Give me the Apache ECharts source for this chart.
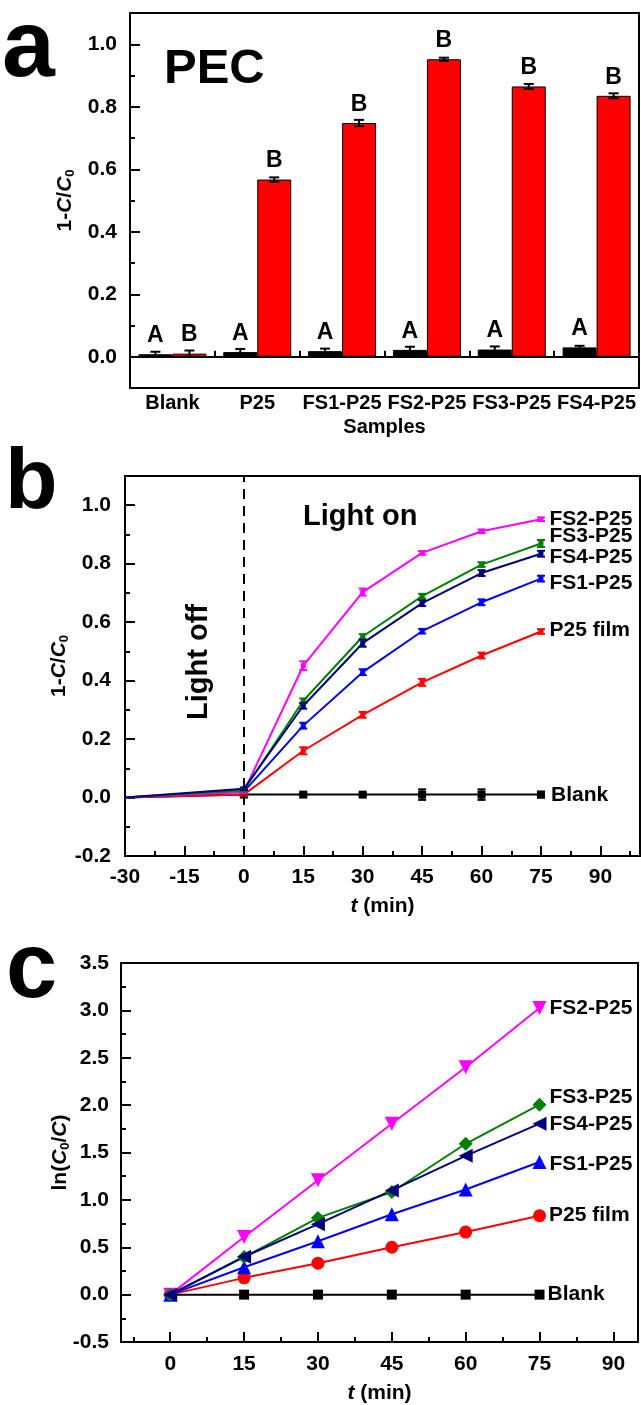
<!DOCTYPE html>
<html><head><meta charset="utf-8">
<script src="https://cdn.jsdelivr.net/npm/echarts@6/dist/echarts.min.js"></script>
<style>html,body{margin:0;padding:0;background:#fff}#c{width:641px;height:1405px}</style>
</head><body><div id="c"></div>
<script>
// ---------------- data ----------------
// Panel a
const samples = ['Blank', 'P25', 'FS1-P25', 'FS2-P25', 'FS3-P25', 'FS4-P25'];
const darkValues = [0.008, 0.015, 0.018, 0.022, 0.023, 0.030];
const darkErrors = [0.008, 0.010, 0.008, 0.010, 0.010, 0.005];
const darkLetters = ['A', 'A', 'A', 'A', 'A', 'A'];
const pecValues = [0.010, 0.567, 0.748, 0.952, 0.865, 0.835];
const pecErrors = [0.010, 0.007, 0.010, 0.005, 0.008, 0.008];
const pecLetters = ['B', 'B', 'B', 'B', 'B', 'B'];
const aYLabels = [0, 0.2, 0.4, 0.6, 0.8, 1.0];
const aYMinor = [0.1, 0.3, 0.5, 0.7, 0.9];

// Panel b
const bTime = [-30, 0, 15, 30, 45, 60, 75];
const bBlank = [0, 0.010, 0.010, 0.010, 0.010, 0.010, 0.010];
const bBlankErr = [0, 0.004, 0.004, 0.004, 0.018, 0.018, 0.010];
const bP25 = [0, 0.010, 0.160, 0.283, 0.394, 0.486, 0.568];
const bP25Err = [0, 0.004, 0.012, 0.010, 0.012, 0.010, 0.008];
const bFS1 = [0, 0.020, 0.246, 0.429, 0.569, 0.668, 0.749];
const bFS1Err = [0, 0.004, 0.010, 0.010, 0.008, 0.010, 0.010];
const bFS2 = [0, 0.020, 0.451, 0.703, 0.837, 0.911, 0.952];
const bFS2Err = [0, 0.004, 0.015, 0.012, 0.006, 0.006, 0.006];
const bFS3 = [0, 0.025, 0.331, 0.551, 0.689, 0.797, 0.869];
const bFS3Err = [0, 0.004, 0.008, 0.008, 0.008, 0.008, 0.012];
const bFS4 = [0, 0.030, 0.314, 0.528, 0.665, 0.768, 0.834];
const bFS4Err = [0, 0.004, 0.010, 0.012, 0.010, 0.010, 0.010];
const bXLabels = [-30, -15, 0, 15, 30, 45, 60, 75, 90];
const bXMinor = [-22.5, -7.5, 7.5, 22.5, 37.5, 52.5, 67.5, 82.5, 97.5];
const bYLabels = [-0.2, 0, 0.2, 0.4, 0.6, 0.8, 1.0];
const bYMinor = [-0.1, 0.1, 0.3, 0.5, 0.7, 0.9];

// Panel c
const cTime = [0, 15, 30, 45, 60, 75];
const cBlank = [0, 0, 0, 0, 0, 0];
const cP25 = [0, 0.177, 0.332, 0.500, 0.660, 0.833];
const cFS1 = [0, 0.289, 0.563, 0.848, 1.110, 1.400];
const cFS2 = [0, 0.609, 1.207, 1.804, 2.400, 3.026];
const cFS3 = [0, 0.397, 0.810, 1.083, 1.592, 2.005];
const cFS4 = [0, 0.400, 0.744, 1.100, 1.465, 1.804];
const cXLabels = [0, 15, 30, 45, 60, 75, 90];
const cXMinor = [-7.5, 7.5, 22.5, 37.5, 52.5, 67.5, 82.5];
const cYLabels = [-0.5, 0, 0.5, 1.0, 1.5, 2.0, 2.5, 3.0, 3.5];
const cYMinor = [-0.25, 0.25, 0.75, 1.25, 1.75, 2.25, 2.75, 3.25];

const seriesNames = ['Blank', 'P25 film', 'FS1-P25', 'FS2-P25', 'FS3-P25', 'FS4-P25'];

// ---------------- styles ----------------
const FONT = '"Liberation Sans", Arial, sans-serif';
const colors = ['#000000', '#ff0000', '#0000ff', '#ff00ff', '#007f00', '#00007f'];
const bLabelOffset = [1, -1, 5, 0, -7, 3];
const cLabelOffset = [0, 0, 2, 0, -7, 1];
const cSymbols = ['rect', 'circle', 'triangle', 'triangle', 'diamond', 'triangle'];
const cSymbolRotate = [0, 0, 0, 180, 0, 90];
const cSymbolSize = [10, 13, 14, 14, 14, 14];
const BAR_W = 34;

const txt = { fontFamily: FONT, fontWeight: 'bold', color: '#000' };
const nameRich = {
  n: { fontFamily: FONT, fontWeight: 'bold', fontSize: 21, color: '#000', lineHeight: 22, verticalAlign: 'top' },
  i: { fontFamily: FONT, fontWeight: 'bold', fontStyle: 'italic', fontSize: 21, color: '#000', lineHeight: 22, verticalAlign: 'top' },
  s: { fontFamily: FONT, fontWeight: 'bold', fontSize: 13, color: '#000', lineHeight: 12, verticalAlign: 'bottom', padding: [17, 0, 0, 0] }
};

function tickAxis(kind, gridIndex, min, max, values, len) {
  return {
    type: 'value', gridIndex, min, max,
    position: kind === 'x' ? 'bottom' : 'left',
    axisLine: { show: false, onZero: false },
    axisTick: { show: true, inside: true, length: len, lineStyle: { color: '#000', width: 2 }, customValues: values },
    axisLabel: { show: false },
    splitLine: { show: false }
  };
}
function axisSet(kind, gridIndex, min, max, labels, minors, fmt, margin, name, nameGap) {
  const main = {
    type: 'value', gridIndex, min, max,
    position: kind === 'x' ? 'bottom' : 'left',
    axisLine: { show: true, onZero: false, lineStyle: { color: '#000', width: 2 } },
    axisTick: { show: false },
    axisLabel: { show: true, customValues: labels, formatter: fmt, margin, fontSize: 21, ...txt },
    splitLine: { show: false },
    name, nameLocation: 'middle', nameGap, nameMoveOverlap: false,
    nameTextStyle: { rich: nameRich }
  };
  return [main, tickAxis(kind, gridIndex, min, max, labels, 10), tickAxis(kind, gridIndex, min, max, minors, 5)];
}

function errorBars(color, dx, capHalf, width) {
  return function (params, api) {
    const x = api.value(0), y = api.value(1), e = api.value(2);
    if (!e) return null;
    const top = api.coord([x, y + e]), bot = api.coord([x, y - e]);
    const cx = top[0] + dx;
    const st = { stroke: color, lineWidth: width };
    return {
      type: 'group', children: [
        { type: 'line', shape: { x1: cx, y1: top[1], x2: cx, y2: bot[1] }, style: st },
        { type: 'line', shape: { x1: cx - capHalf, y1: top[1], x2: cx + capHalf, y2: top[1] }, style: st },
        { type: 'line', shape: { x1: cx - capHalf, y1: bot[1], x2: cx + capHalf, y2: bot[1] }, style: st }
      ]
    };
  };
}

const fmt1 = v => Number(v).toFixed(1);
const fmt0 = v => String(Math.round(v));

const bx = axisSet('x', 1, -30, 100, bXLabels, bXMinor, fmt0, 11, '{i|t}{n| (min)}', 40);
const cx = axisSet('x', 2, -10, 95, cXLabels, cXMinor, fmt0, 12, '{i|t}{n| (min)}', 41);
const ay = axisSet('y', 0, -0.1, 1.1, aYLabels, aYMinor, fmt1, 13, '{n|1-}{i|C}{n|/}{i|C}{s|0}', 53);
const by = axisSet('y', 1, -0.2, 1.1, bYLabels, bYMinor, fmt1, 14, '{n|1-}{i|C}{n|/}{i|C}{s|0}', 54);
const cy = axisSet('y', 2, -0.5, 3.5, cYLabels, cYMinor, fmt1, 12, '{n|ln(}{i|C}{s|0}{n|/}{i|C}{n|)}', 49);

const xAxes = [
  {
    type: 'category', gridIndex: 0, data: samples, position: 'bottom',
    axisLine: { show: true, lineStyle: { color: '#000', width: 2 } },
    axisTick: { show: true, inside: true, length: 6, lineStyle: { color: '#000', width: 2 } },
    axisLabel: { margin: 5, fontSize: 20, ...txt, interval: 0 },
    name: 'Samples', nameLocation: 'middle', nameGap: 29, nameMoveOverlap: false,
    nameTextStyle: { fontSize: 20, ...txt }
  },
  ...bx, ...cx
];
// x axes: 0 a-cat | 1,2,3 b | 4,5,6 c
const yAxes = [...ay, ...by, ...cy];
// y axes: 0,1,2 a | 3,4,5 b | 6,7,8 c

const series = [];
// Panel a bars
series.push({
  type: 'bar', xAxisIndex: 0, yAxisIndex: 0, data: darkValues, barWidth: BAR_W, barGap: '0%',
  itemStyle: { color: '#000', borderColor: '#000', borderWidth: 1 },
  label: { show: true, position: 'top', distance: 7, formatter: p => darkLetters[p.dataIndex], fontSize: 23, ...txt }
});
series.push({
  type: 'bar', xAxisIndex: 0, yAxisIndex: 0, data: pecValues, barWidth: BAR_W, barGap: '0%',
  itemStyle: { color: '#ff0000', borderColor: '#000', borderWidth: 1 },
  label: { show: true, position: 'top', distance: 7, formatter: p => pecLetters[p.dataIndex], fontSize: 23, ...txt }
});
series.push({
  type: 'custom', xAxisIndex: 0, yAxisIndex: 0, encode: { x: 0, y: 1 }, z: 5,
  data: darkValues.map((v, i) => [i, v, darkErrors[i]]),
  renderItem: errorBars('#000', -BAR_W / 2, 5, 2)
});
series.push({
  type: 'custom', xAxisIndex: 0, yAxisIndex: 0, encode: { x: 0, y: 1 }, z: 5,
  data: pecValues.map((v, i) => [i, v, pecErrors[i]]),
  renderItem: errorBars('#000', BAR_W / 2, 5, 2)
});

// Panel b lines
const bVals = [bBlank, bP25, bFS1, bFS2, bFS3, bFS4];
const bErrs = [bBlankErr, bP25Err, bFS1Err, bFS2Err, bFS3Err, bFS4Err];
bVals.forEach((vals, k) => {
  const last = vals.length - 1;
  const s = {
    type: 'line', name: seriesNames[k], xAxisIndex: 1, yAxisIndex: 3,
    data: bTime.map((t, i) => [t, vals[i]]),
    symbol: 'rect', symbolSize: (v, p) => p.dataIndex === 0 ? 0 : (k === 0 ? 8 : 5),
    lineStyle: { color: colors[k], width: 2 }, itemStyle: { color: colors[k] },
    label: {
      show: true, position: 'right', distance: 6, offset: [0, bLabelOffset[k]],
      formatter: p => p.dataIndex === last ? p.seriesName : '', fontSize: 21, ...txt
    },
    z: 3 + k * 0.01
  };
  if (k === 0) {
    s.markLine = {
      silent: true, symbol: 'none', label: { show: false },
      lineStyle: { color: '#000', type: [10, 7], width: 2 },
      data: [{ xAxis: 0 }]
    };
  }
  series.push(s);
  series.push({
    type: 'custom', xAxisIndex: 1, yAxisIndex: 3, encode: { x: 0, y: 1 }, z: 4,
    data: bTime.map((t, i) => [t, vals[i], bErrs[k][i]]),
    renderItem: errorBars(colors[k], 0, 4, 2)
  });
});

// Panel c lines
const cVals = [cBlank, cP25, cFS1, cFS2, cFS3, cFS4];
cVals.forEach((vals, k) => {
  const last = vals.length - 1;
  series.push({
    type: 'line', name: seriesNames[k], xAxisIndex: 4, yAxisIndex: 6,
    data: cTime.map((t, i) => [t, vals[i]]),
    symbol: cSymbols[k], symbolSize: cSymbolSize[k], symbolRotate: cSymbolRotate[k],
    lineStyle: { color: colors[k], width: 2 }, itemStyle: { color: colors[k] },
    label: {
      show: true, position: 'right', distance: 3, offset: [0, cLabelOffset[k]],
      formatter: p => p.dataIndex === last ? p.seriesName : '', fontSize: 21, ...txt
    }
  });
});

const graphicText = (text, x, y, size, align, extra) => Object.assign({
  type: 'text', x, y,
  style: { text, font: 'bold ' + size + 'px ' + FONT, fill: '#000', textAlign: align, textVerticalAlign: 'middle', align, verticalAlign: 'middle' }
}, extra || {});

const option = {
  animation: false,
  backgroundColor: '#fff',
  grid: [
    { left: 130, top: 13, width: 509, height: 375, show: true, borderColor: '#000', borderWidth: 2 },
    { left: 125, top: 476, width: 515, height: 380, show: true, borderColor: '#000', borderWidth: 2 },
    { left: 121, top: 963, width: 517, height: 380, show: true, borderColor: '#000', borderWidth: 2 }
  ],
  xAxis: xAxes,
  yAxis: yAxes,
  series,
  graphic: [
    graphicText('a', 2, 50, 95, 'left'),
    graphicText('b', 5, 484, 86, 'left'),
    graphicText('c', 6, 972, 92, 'left'),
    graphicText('PEC', 164, 69, 49, 'left'),
    graphicText('Light on', 303, 517, 29, 'left'),
    graphicText('Light off', 199, 662, 29, 'center', { rotation: Math.PI / 2 })
  ]
};
const chart = echarts.init(document.getElementById('c'), null, { renderer: 'canvas' });
chart.setOption(option);
</script></body></html>
